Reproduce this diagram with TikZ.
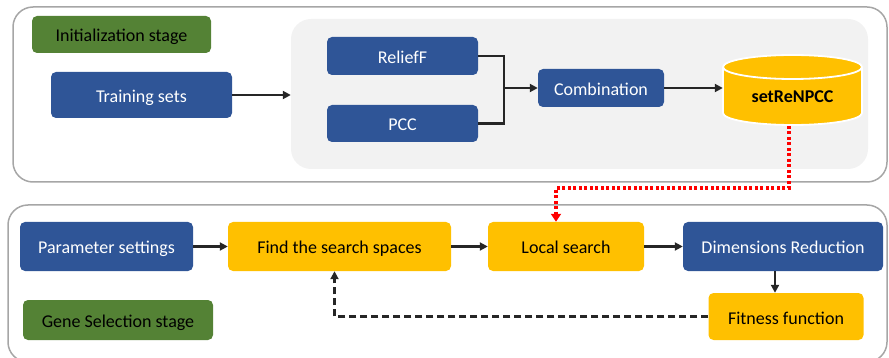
\documentclass[tikz,border=0pt]{standalone}
\usepackage{fontspec}
\setmainfont{Carlito}
\usetikzlibrary{arrows.meta}
\definecolor{boxblue}{HTML}{2F5597}
\definecolor{boxyellow}{HTML}{FFC000}
\definecolor{boxgreen}{HTML}{548235}
\definecolor{panelgray}{HTML}{F2F2F2}
\definecolor{framegray}{HTML}{A6A6A6}
\definecolor{linedark}{HTML}{262626}
\definecolor{dotred}{HTML}{FF0000}
\begin{document}
\begin{tikzpicture}[x=1pt,y=-1pt,
  basebox/.style={rounded corners=5pt, inner sep=0pt, text height=15pt, text depth=0pt, font=\fontsize{18}{21}\selectfont},
  bluebox/.style={basebox, fill=boxblue, text=white},
  yellowbox/.style={basebox, fill=boxyellow, text=black},
  greenbox/.style={basebox, fill=boxgreen, text=black},
  frame/.style={draw=framegray, line width=1.5pt, rounded corners=20pt},
  arr/.style={draw=linedark, line width=2.3pt, -{Triangle[length=8pt,width=8pt]}},
  conn/.style={draw=linedark, line width=2.3pt},
  redarr/.style={draw=dotred, line width=3.2pt, dash pattern=on 3pt off 2.5pt, -{Triangle[length=8pt,width=10pt]}}
]
\useasboundingbox (0,0) rectangle (889,358);
% outer frames
\draw[frame] (13,7) rectangle (887,182);
\draw[frame] (8,205) rectangle (887,362);
% gray panel
\node[fill=panelgray, rounded corners=20pt, minimum width=577pt, minimum height=150pt, inner sep=0pt] (panel) at (579.5,94) {};
% top stage
\node[greenbox, minimum width=179pt, minimum height=37pt] (init) at (121.5,34.5) {Initialization stage};
\node[bluebox, minimum width=181pt, minimum height=46pt] (train) at (141.5,95) {Training sets};
\node[bluebox, minimum width=151pt, minimum height=38pt] (relief) at (402.5,56) {ReliefF};
\node[bluebox, minimum width=151pt, minimum height=37pt] (pcc) at (402.5,123.5) {PCC};
\node[bluebox, minimum width=126pt, minimum height=38pt] (comb) at (601,88) {Combination};
% cylinder
\fill[boxyellow, draw=white, line width=1.8pt] (792.5,113) ellipse [x radius=69.5, y radius=12];
\fill[boxyellow] (723,67) rectangle (862,113);
\draw[white, line width=1.8pt] (723,67) -- (723,113) (862,67) -- (862,113);
\fill[boxyellow, draw=white, line width=1.8pt] (792.5,67) ellipse [x radius=69.5, y radius=12];
\node[inner sep=0pt, minimum width=139pt, minimum height=82pt] (db) at (792.5,90) {};
\node[inner sep=0pt, text height=15pt, text depth=0pt, font=\fontsize{18}{21}\selectfont\bfseries] (dblabel) at (792.5,95) {setReNPCC};
\coordinate (dbout) at (789,126);
% top connectors
\draw[arr] (train.east) -- (train.east -| panel.west);
\coordinate (join) at (504,88);
\draw[conn] (relief.east) -| (join);
\draw[conn] (pcc.east) -| (join);
\draw[arr] (join) -- (comb.west);
\draw[arr] (comb.east) -- (comb.east -| db.west);
% bottom stage
\node[bluebox, minimum width=173pt, minimum height=49pt] (param) at (106.5,246.5) {Parameter settings};
\node[yellowbox, minimum width=223pt, minimum height=49pt] (find) at (339.5,246.5) {Find the search spaces};
\node[yellowbox, minimum width=156pt, minimum height=49pt] (local) at (566,246.5) {Local search};
\node[bluebox, minimum width=200pt, minimum height=49pt] (dim) at (783,246.5) {Dimensions Reduction};
\node[yellowbox, minimum width=155pt, minimum height=47pt] (fit) at (786,316.5) {Fitness function};
\node[greenbox, minimum width=190pt, minimum height=40pt] (gene) at (118,320) {Gene Selection stage};
% bottom connectors
\draw[arr] (param.east) -- (find.west);
\draw[arr] (find.east) -- (local.west);
\draw[arr] (local.east) -- (dim.west);
\draw[arr] ([xshift=-8pt]dim.south) -- ([xshift=-8pt]dim.south |- fit.north);
\draw[arr, dash pattern=on 7pt off 4pt] (fit.west) -| ([xshift=-5pt]find.south);
% red dotted
\draw[redarr] (dbout) -- (789,188) -| ([xshift=-10pt]local.north);
\end{tikzpicture}
\end{document}
